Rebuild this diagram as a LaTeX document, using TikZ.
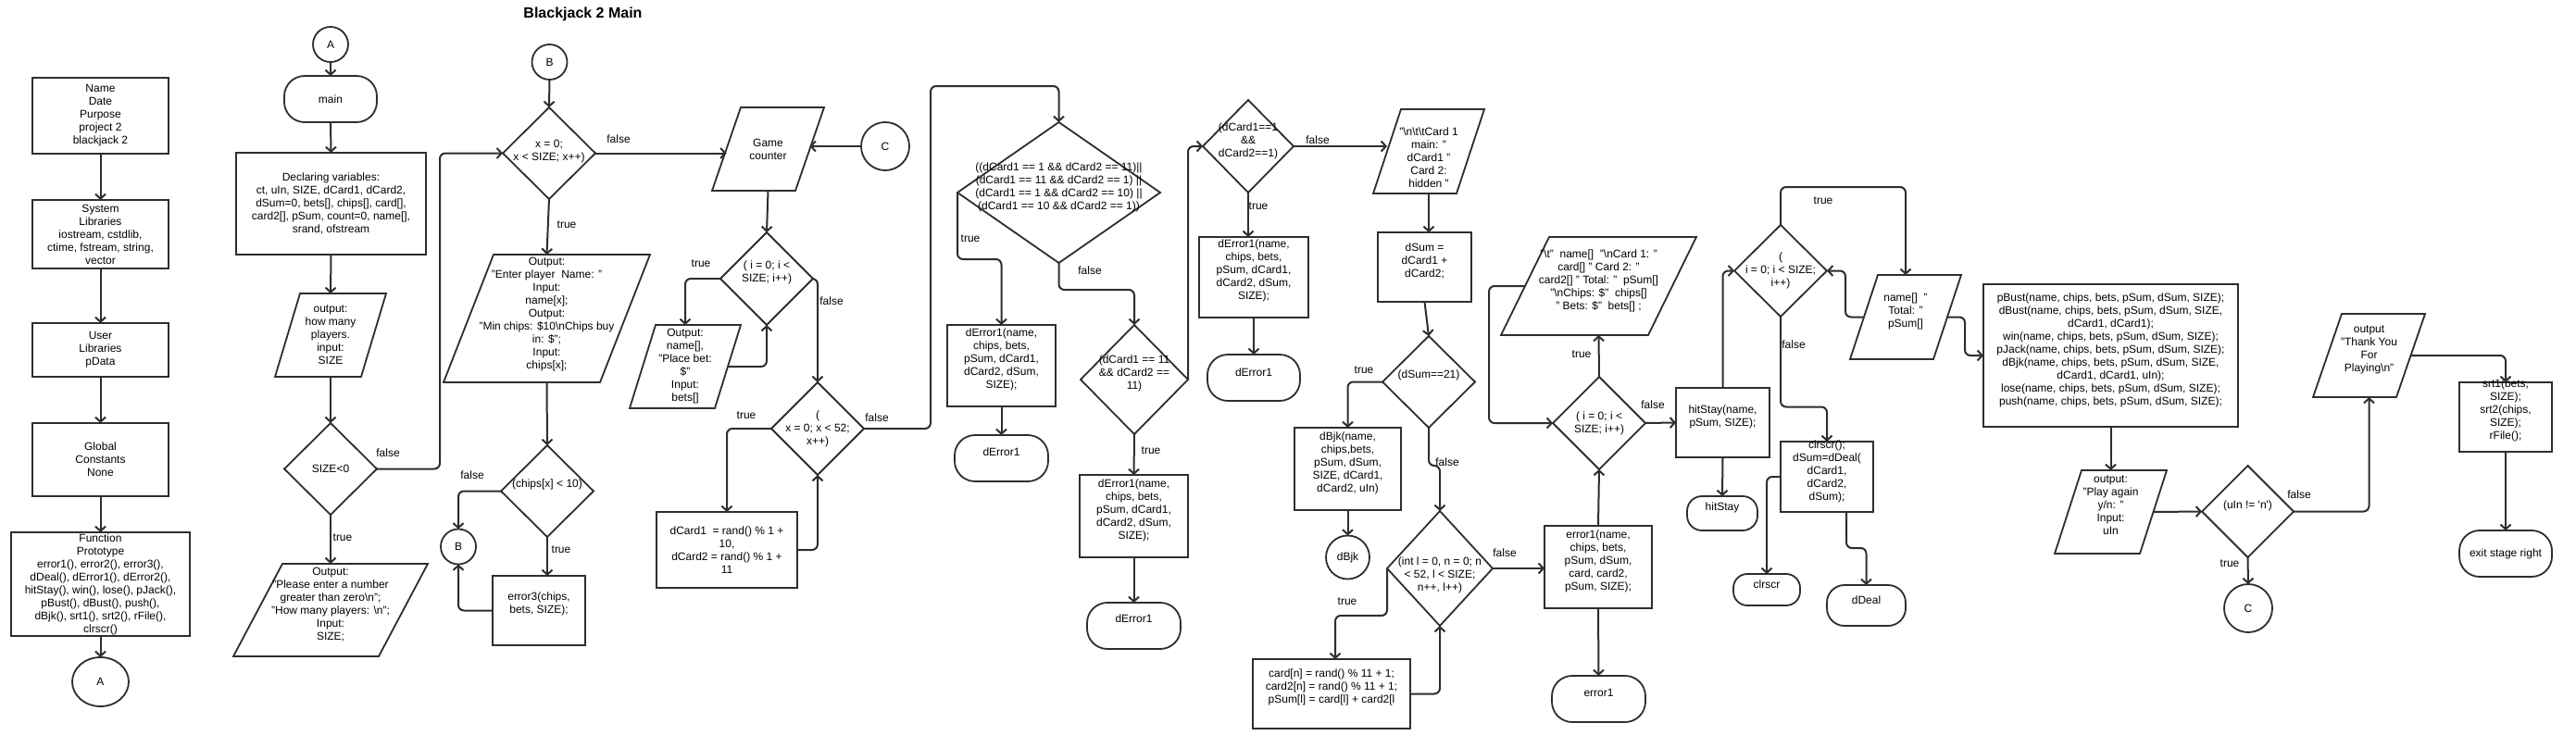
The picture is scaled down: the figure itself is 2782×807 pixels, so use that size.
\documentclass[tikz,border=0pt]{standalone}
\usepackage{fontspec}
\setmainfont{Liberation Sans}
\usetikzlibrary{shapes.geometric,arrows.meta,calc}
\definecolor{lc}{HTML}{2E2E2E}
\newcommand\fs{\fontsize{12}{14}\selectfont}
\newcommand\mypara[6]{%
 \node[ghost, minimum width=#4pt-#6pt, minimum height=#5pt] (#1) at (#2,#3) {};
 \draw[shp] ($(#1.south west)+(-#6/2,0)$) -- ($(#1.south east)+(-#6/2,0)$) -- ($(#1.north east)+(#6/2,0)$) -- ($(#1.north west)+(#6/2,0)$) -- cycle;}
\newcommand\tx[3]{\node[txt] at ($(#1.center)+(0,#2)$) {#3};}
\tikzset{
 shp/.style={draw=lc, line width=1.8pt, line join=miter},
 ghost/.style={rectangle, inner sep=0pt, outer sep=0pt},
 box/.style={shp, rectangle, inner sep=0pt, outer sep=0pt},
 dia/.style={shp, diamond, inner sep=0pt, outer sep=0pt},
 circ/.style={shp, ellipse, inner sep=0pt, outer sep=0pt},
 term/.style={shp, rectangle, rounded corners=#1, inner sep=0pt, outer sep=0pt},
 txt/.style={font=\fs, align=center, inner sep=0pt, text=black},
 conn/.style={draw=lc, line width=2pt, rounded corners=6pt, -{Straight Barb[length=5pt,width=11pt]}},
}
\begin{document}
\begin{tikzpicture}[x=1pt,y=-1pt]
\fill[white] (0,0) rectangle (2782,807);
\useasboundingbox (0,0) rectangle (2782,807);

\node[font=\fontsize{16}{19}\selectfont\bfseries, inner sep=0pt] (title) at (629.5,15.5) {Blackjack 2 Main};

% ---------- left column
\node[box, minimum width=147pt, minimum height=82pt] (info) at (108.5,125) {};
\tx{info}{0}{Name\\Date\\Purpose\\project 2\\blackjack 2}
\node[box, minimum width=147pt, minimum height=74pt] (sys) at (108.5,253) {};
\tx{sys}{0}{System\\Libraries\\iostream, cstdlib,\\ctime, fstream, string,\\vector}
\node[box, minimum width=147pt, minimum height=58pt] (usr) at (108.5,378) {};
\tx{usr}{0}{User\\Libraries\\pData}
\node[box, minimum width=147pt, minimum height=79pt] (glob) at (108.5,496.5) {};
\tx{glob}{0}{Global\\Constants\\None}
\node[box, minimum width=193pt, minimum height=112pt] (proto) at (108.5,631) {};
\tx{proto}{0}{Function\\Prototype\\error1(), error2(), error3(),\\dDeal(), dError1(), dError2(),\\hitStay(), win(), lose(), pJack(),\\pBust(), dBust(), push(),\\dBjk(), srt1(), srt2(), rFile(),\\clrscr()}
\node[circ, minimum width=61pt, minimum height=53pt] (aB) at (108.5,736.5) {};
\tx{aB}{0}{A}

% ---------- main column
\node[circ, minimum width=38pt, minimum height=38pt] (aT) at (357,48) {};
\tx{aT}{0}{A}
\node[term=22pt, minimum width=100pt, minimum height=50pt] (main) at (357,107) {};
\tx{main}{0}{main}
\node[box, minimum width=205pt, minimum height=110pt] (decl) at (357.5,220) {};
\tx{decl}{0}{Declaring variables:\\ct, uIn, SIZE, dCard1, dCard2,\\dSum=0, bets[], chips[], card[],\\card2[], pSum, count=0, name[],\\srand, ofstream}
\mypara{outp}{357}{362}{120}{90}{27}
\tx{outp}{0}{output:\\how many\\players.\\input:\\SIZE}
\node[dia, minimum width=100pt, minimum height=99pt] (size) at (357,506.5) {};
\tx{size}{0}{SIZE<0}
\mypara{please}{357}{659}{210}{100}{53}
\tx{please}{-6}{Output:\\"Please enter a number\\greater than zero\textbackslash n";\\"How many players: \textbackslash n";\\Input:\\SIZE;}

% ---------- B column
\node[circ, minimum width=38pt, minimum height=38pt] (bT) at (593.5,67) {};
\tx{bT}{0}{B}
\node[dia, minimum width=100pt, minimum height=99pt] (xloop) at (593,165.5) {};
\tx{xloop}{-2}{x = 0;\\x < SIZE; x++)}
\mypara{enter}{590.5}{344}{223}{138}{54}
\tx{enter}{-4}{Output:\\"Enter player\ \ Name: "\\Input:\\name[x];\\Output:\\"Min chips: \$10\textbackslash nChips buy\\in: \$";\\Input:\\chips[x];}
\node[dia, minimum width=100pt, minimum height=99pt] (chips) at (591,530.5) {};
\tx{chips}{-7}{(chips[x] < 10)}
\node[circ, minimum width=38pt, minimum height=38pt] (bB) at (495,590.5) {};
\tx{bB}{0}{B}
\node[box, minimum width=100pt, minimum height=75pt] (err3) at (582,659.5) {};
\tx{err3}{-7}{error3(chips,\\bets, SIZE);}

% ---------- game column
\mypara{game}{829.5}{161}{121}{90}{31}
\tx{game}{0}{Game\\counter}
\node[circ, minimum width=52pt, minimum height=52pt] (cT) at (956,158) {};
\tx{cT}{0}{C}
\node[dia, minimum width=100pt, minimum height=100pt] (iloop) at (828,301) {};
\tx{iloop}{-7}{( i = 0; i <\\SIZE; i++)}
\mypara{pbet}{740}{396}{120}{90}{28}
\tx{pbet}{0}{Output:\\name[],\\"Place bet:\\\$"\\Input:\\bets[]}
\node[dia, minimum width=100pt, minimum height=100pt] (xloop2) at (883,463) {};
\tx{xloop2}{0}{(\\x = 0; x < 52;\\x++)}
\node[box, minimum width=152pt, minimum height=82pt] (dcard) at (785,594) {};
\tx{dcard}{0}{dCard1\ \ = rand() \% 1 +\\10,\\dCard2 = rand() \% 1 +\\11}

% ---------- blackjack checks
\node[dia, minimum width=219pt, minimum height=152pt] (bj) at (1143.5,208) {};
\tx{bj}{-6}{((dCard1 == 1 \&\& dCard2 == 11)||\\(dCard1 == 11 \&\& dCard2 == 1) ||\\(dCard1 == 1 \&\& dCard2 == 10) ||\\(dCard1 == 10 \&\& dCard2 == 1))}
\node[box, minimum width=117pt, minimum height=88pt] (de1) at (1081.5,395) {};
\tx{de1}{-7}{dError1(name,\\chips, bets,\\pSum, dCard1,\\dCard2, dSum,\\SIZE);}
\node[term=22pt, minimum width=101pt, minimum height=50pt] (t1) at (1081.5,495) {};
\tx{t1}{-7}{dError1}
\node[dia, minimum width=116pt, minimum height=118pt] (d11) at (1225,410) {};
\tx{d11}{-7}{(dCard1 == 11\\\&\& dCard2 ==\\11)}
\node[box, minimum width=117pt, minimum height=89pt] (de2) at (1224.5,557.5) {};
\tx{de2}{-6}{dError1(name,\\chips, bets,\\pSum, dCard1,\\dCard2, dSum,\\SIZE);}
\node[term=22pt, minimum width=101pt, minimum height=50pt] (t2) at (1224.5,676) {};
\tx{t2}{-8}{dError1}
\node[dia, minimum width=98pt, minimum height=100pt] (d1) at (1348,158) {};
\tx{d1}{-6}{(dCard1==1\\\&\&\\dCard2==1)}
\node[box, minimum width=118pt, minimum height=87pt] (de3) at (1354,299.5) {};
\tx{de3}{-7}{dError1(name,\\chips, bets,\\pSum, dCard1,\\dCard2, dSum,\\SIZE);}
\node[term=22pt, minimum width=100pt, minimum height=50pt] (t3) at (1354,408) {};
\tx{t3}{-6}{dError1}

% ---------- deal column
\mypara{hid}{1543}{163.5}{120}{91}{30}
\tx{hid}{7}{"\textbackslash n\textbackslash t\textbackslash tCard 1\\main: "\\dCard1 "\\Card 2:\\hidden "}
\node[box, minimum width=101pt, minimum height=75pt] (dsum) at (1538.5,288.5) {};
\tx{dsum}{-7}{dSum =\\dCard1 +\\dCard2;}
\node[dia, minimum width=100pt, minimum height=99pt] (d21) at (1543,412.5) {};
\tx{d21}{-7}{(dSum==21)}
\node[box, minimum width=115pt, minimum height=89pt] (dbjkb) at (1455.5,506.5) {};
\tx{dbjkb}{-6}{dBjk(name,\\chips,bets,\\pSum, dSum,\\SIZE, dCard1,\\dCard2, uIn)}
\node[circ, minimum width=47pt, minimum height=47pt] (dbjkc) at (1455.5,602) {};
\tx{dbjkc}{0}{dBjk}
\node[dia, minimum width=114pt, minimum height=124pt] (dloop) at (1555,614) {};
\tx{dloop}{7}{(int l = 0, n = 0; n\\< 52, l < SIZE;\\n++, l++)}
\node[box, minimum width=170pt, minimum height=75pt] (cardb) at (1438,749.5) {};
\tx{cardb}{-7}{card[n] = rand() \% 11 + 1;\\card2[n] = rand() \% 11 + 1;\\pSum[l] = card[l] + card2[l}
\node[box, minimum width=116pt, minimum height=89pt] (err1) at (1726,612.5) {};
\tx{err1}{-6}{error1(name,\\chips, bets,\\pSum, dSum,\\card, card2,\\pSum, SIZE);}
\node[term=22pt, minimum width=101pt, minimum height=50pt] (t4) at (1726.5,755) {};
\tx{t4}{-7}{error1}
\node[dia, minimum width=100pt, minimum height=100pt] (iloop2) at (1727,457) {};
\tx{iloop2}{0}{( i = 0; i <\\SIZE; i++)}
\mypara{show}{1726.5}{309}{211}{106}{52}
\tx{show}{-6}{"\textbackslash t"\ \ name[]\ \ "\textbackslash nCard 1: "\\card[] " Card 2: "\\card2[] " Total: "\ \ pSum[]\\"\textbackslash nChips: \$"\ \ chips[]\\" Bets: \$"\ \ bets[] ;}
\node[box, minimum width=101pt, minimum height=75pt] (hit) at (1860.5,456.5) {};
\tx{hit}{-6}{hitStay(name,\\pSum, SIZE);}
\node[term=16pt, minimum width=76pt, minimum height=37pt] (t5) at (1860,554.5) {};
\tx{t5}{-6}{hitStay}

% ---------- results column
\node[dia, minimum width=100pt, minimum height=99pt] (iloop3) at (1923,292.5) {};
\tx{iloop3}{0}{(\\i = 0; i < SIZE;\\i++)}
\mypara{tot}{2058}{342.5}{120}{91}{30}
\tx{tot}{-6}{name[]\ \ "\\Total: "\\pSum[]}
\node[box, minimum width=100pt, minimum height=76pt] (clr) at (1973,515) {};
\tx{clr}{-6}{clrscr();\\dSum=dDeal(\\dCard1,\\dCard2,\\dSum);}
\node[term=15pt, minimum width=72pt, minimum height=34pt] (t6) at (1908,637) {};
\tx{t6}{-6}{clrscr}
\node[term=19pt, minimum width=85pt, minimum height=44pt] (t7) at (2015.5,654) {};
\tx{t7}{-6}{dDeal}
\node[box, minimum width=275pt, minimum height=154pt] (res) at (2279.5,384) {};
\tx{res}{-6}{pBust(name, chips, bets, pSum, dSum, SIZE);\\dBust(name, chips, bets, pSum, dSum, SIZE,\\dCard1, dCard1);\\win(name, chips, bets, pSum, dSum, SIZE);\\pJack(name, chips, bets, pSum, dSum, SIZE);\\dBjk(name, chips, bets, pSum, dSum, SIZE,\\dCard1, dCard1, uIn);\\lose(name, chips, bets, pSum, dSum, SIZE);\\push(name, chips, bets, pSum, dSum, SIZE);}
\mypara{again}{2279.5}{553}{121}{90}{29}
\tx{again}{-7}{output:\\"Play again\\y/n: "\\Input:\\uIn}
\node[dia, minimum width=99pt, minimum height=99pt] (uin) at (2427.5,552.5) {};
\tx{uin}{-6}{(uIn != \textquotesingle n\textquotesingle)}
\node[circ, minimum width=52pt, minimum height=52pt] (cB) at (2428,657) {};
\tx{cB}{0}{C}
\mypara{thx}{2558.5}{384}{121}{90}{31}
\tx{thx}{-6}{output\\"Thank You\\For\\Playing\textbackslash n"}
\node[box, minimum width=100pt, minimum height=75pt] (srt) at (2706,450.5) {};
\tx{srt}{-7}{srt1(bets,\\SIZE);\\srt2(chips,\\SIZE);\\rFile();}
\node[term=22pt, minimum width=100pt, minimum height=50pt] (exit) at (2706,598) {};
\tx{exit}{0}{exit stage right}

% ---------- connectors
\draw[conn] (info.south) -- (sys.north);
\draw[conn] (sys.south) -- (usr.north);
\draw[conn] (usr.south) -- (glob.north);
\draw[conn] (glob.south) -- (proto.north);
\draw[conn] (proto.south) -- (aB.north);

\draw[conn] (aT.south) -- (main.north);
\draw[conn] (main.south) -- (decl.north);
\draw[conn] (decl.south) -- (outp.north);
\draw[conn] (outp.south) -- (size.north);
\draw[conn] (size.south) -- (please.north);
\draw[conn] (size.east) -- ++(68,0) |- (xloop.west);

\draw[conn] (bT.south) -- (xloop.north);
\draw[conn] (xloop.east) -- (xloop.east -| game.west);
\draw[conn] (xloop.south) -- (enter.north);
\draw[conn] (enter.south) -- (chips.north);
\draw[conn] (chips.west) -| (bB.north);
\draw[conn] (chips.south) -- (chips.south |- err3.north);
\draw[conn] (err3.west) -| (bB.south);

\draw[conn] (cT.west) -- (cT.west -| game.east);
\draw[conn] (game.south) -- (iloop.north);
\draw[conn] (iloop.west) -| (pbet.north);
\draw[conn] (pbet.east) -| (iloop.south);
\draw[conn] (iloop.east) -| (xloop2.north);
\draw[conn] (xloop2.west) -| (dcard.north);
\draw[conn] (dcard.east) -| (xloop2.south);
\draw[conn] (xloop2.east) -| ($(bj.north)+(-138.5,-39)$) -| (bj.north);

\draw[conn] (bj.west) -- ++(0,72) -| (de1.north);
\draw[conn] (de1.south) -- (t1.north);
\draw[conn] (bj.south) -- ++(0,29) -| (d11.north);
\draw[conn] (d11.south) -- (de2.north);
\draw[conn] (de2.south) -- (t2.north);
\draw[conn] (d11.east) |- (d1.west);
\draw[conn] (d1.south) -- (d1.south |- de3.north);
\draw[conn] (de3.south) -- (t3.north);
\draw[conn] (d1.east) -- (d1.east -| hid.west);

\draw[conn] (hid.south) -- (hid.south |- dsum.north);
\draw[conn] (dsum.south) -- (d21.north);
\draw[conn] (d21.west) -| (dbjkb.north);
\draw[conn] (dbjkb.south) -- (dbjkc.north);
\draw[conn] (d21.south) -- ++(0,41) -| (dloop.north);
\draw[conn] (dloop.west) -- ++(0,51) -| ([xshift=4pt]cardb.north);
\draw[conn] (cardb.east) -| (dloop.south);
\draw[conn] (dloop.east) -- (dloop.east -| err1.west);
\draw[conn] (err1.south) -- (t4.north);
\draw[conn] (err1.north) -- (iloop2.south);
\draw[conn] (iloop2.north) -- (show.south);
\draw[conn] (show.west) -- ++(-39,0) |- (iloop2.west);
\draw[conn] (iloop2.east) -- (hit.west);
\draw[conn] (hit.south) -- (t5.north);

\draw[conn] (hit.north) |- (iloop3.west);
\draw[conn] (iloop3.north) -- ++(0,-41) -| (tot.north);
\draw[conn] (tot.west) -- ++(-20,0) |- (iloop3.east);
\draw[conn] (iloop3.south) -- ++(0,97.5) -| (clr.north);
\draw[conn] (clr.west) -| (t6.north);
\draw[conn] ([xshift=21pt]clr.south) -- ++(0,39) -| (t7.north);
\draw[conn] (tot.east) -- ++(19,0) |- (res.west);
\draw[conn] (res.south) -- (again.north);
\draw[conn] (again.east) -- (uin.west);
\draw[conn] (uin.east) -| (thx.south);
\draw[conn] (uin.south) -- (cB.north);
\draw[conn] (thx.east) -| (srt.north);
\draw[conn] (srt.south) -- (exit.north);

% ---------- connector labels
\node[txt] at (419,489) {false};
\node[txt] at (370,581) {true};
\node[txt] at (668,150) {false};
\node[txt] at (612,243) {true};
\node[txt] at (510,513) {false};
\node[txt] at (606,594) {true};
\node[txt] at (757,285) {true};
\node[txt] at (898,325) {false};
\node[txt] at (806,449) {true};
\node[txt] at (947,451) {false};
\node[txt] at (1048,258) {true};
\node[txt] at (1177,292) {false};
\node[txt] at (1243,487) {true};
\node[txt] at (1359,223) {true};
\node[txt] at (1423,151) {false};
\node[txt] at (1473,400) {true};
\node[txt] at (1563,499) {false};
\node[txt] at (1455,650) {true};
\node[txt] at (1625,597) {false};
\node[txt] at (1708,383) {true};
\node[txt] at (1785,437) {false};
\node[txt] at (1969,217) {true};
\node[txt] at (1937,372) {false};
\node[txt] at (2483,534) {false};
\node[txt] at (2408,609) {true};
\end{tikzpicture}
\end{document}
